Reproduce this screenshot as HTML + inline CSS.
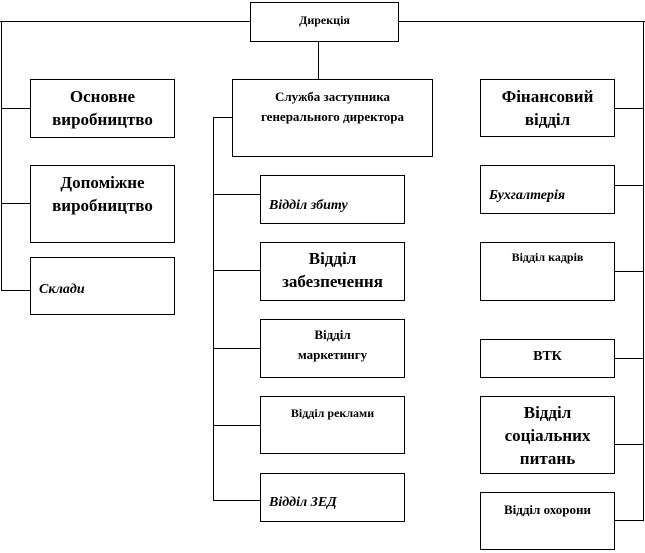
<!DOCTYPE html>
<html><head><meta charset="utf-8"><style>
body{margin:0;width:645px;height:553px;background:#fff;position:relative;overflow:hidden;font-family:"Liberation Serif",serif;font-weight:bold;color:#000}
.b{position:absolute;border:1px solid #000;box-sizing:border-box;text-align:center;background:#fff}
.l{position:absolute;background:#000}
.h{height:1px}.v{width:1px}
.s{font-size:12px;line-height:16px}
.m{font-size:17px;line-height:23px}
.i{font-style:italic;text-align:left;font-size:14px;position:absolute;left:8px}
</style></head><body>
<!-- top lines -->
<div class="l h" style="left:0;top:21px;width:645px"></div>
<div class="l v" style="left:1px;top:21px;height:270px"></div>
<div class="l v" style="left:643px;top:21px;height:500px"></div>
<div class="l v" style="left:318px;top:40px;height:40px"></div>
<!-- left connectors -->
<div class="l h" style="left:1px;top:108px;width:30px"></div>
<div class="l h" style="left:1px;top:203px;width:30px"></div>
<div class="l h" style="left:1px;top:290px;width:30px"></div>
<!-- center -->
<div class="l v" style="left:213px;top:117px;height:384px"></div>
<div class="l h" style="left:213px;top:117px;width:20px"></div>
<div class="l h" style="left:213px;top:194px;width:48px"></div>
<div class="l h" style="left:213px;top:270px;width:48px"></div>
<div class="l h" style="left:213px;top:348px;width:48px"></div>
<div class="l h" style="left:213px;top:425px;width:48px"></div>
<div class="l h" style="left:213px;top:500px;width:48px"></div>
<!-- right connectors -->
<div class="l h" style="left:614px;top:108px;width:30px"></div>
<div class="l h" style="left:614px;top:185px;width:30px"></div>
<div class="l h" style="left:614px;top:271px;width:30px"></div>
<div class="l h" style="left:614px;top:358px;width:30px"></div>
<div class="l h" style="left:614px;top:444px;width:30px"></div>
<div class="l h" style="left:614px;top:520px;width:30px"></div>

<div class="b s" style="left:250px;top:2px;width:149px;height:40px;padding-top:9px">Дирекція</div>

<div class="b m" style="left:30px;top:79px;width:145px;height:59px;padding-top:5px">Основне<br>виробництво</div>
<div class="b m" style="left:30px;top:165px;width:145px;height:78px;padding-top:5px">Допоміжне<br>виробництво</div>
<div class="b" style="left:30px;top:257px;width:145px;height:58px"><span class="i" style="top:24px">Склади</span></div>

<div class="b" style="left:232px;top:79px;width:201px;height:78px;padding-top:7px;font-size:13px;line-height:20px">Служба заступника<br>генерального директора</div>
<div class="b" style="left:260px;top:175px;width:145px;height:49px"><span class="i" style="top:22px">Відділ збиту</span></div>
<div class="b m" style="left:260px;top:242px;width:145px;height:59px;padding-top:4px">Відділ<br>забезпечення</div>
<div class="b" style="left:260px;top:319px;width:145px;height:59px;padding-top:5px;font-size:13px;line-height:20px">Відділ<br>маркетингу</div>
<div class="b s" style="left:260px;top:396px;width:145px;height:58px;padding-top:8px">Відділ реклами</div>
<div class="b" style="left:260px;top:473px;width:145px;height:49px"><span class="i" style="top:21px">Відділ ЗЕД</span></div>

<div class="b m" style="left:480px;top:79px;width:135px;height:58px;padding-top:5px">Фінансовий<br>відділ</div>
<div class="b" style="left:480px;top:165px;width:135px;height:49px"><span class="i" style="top:22px">Бухгалтерія</span></div>
<div class="b s" style="left:480px;top:242px;width:135px;height:59px;padding-top:6px">Відділ кадрів</div>
<div class="b" style="left:480px;top:339px;width:135px;height:39px;padding-top:8px;font-size:14px;line-height:18px">ВТК</div>
<div class="b m" style="left:480px;top:396px;width:135px;height:78px;padding-top:4px">Відділ<br>соціальних<br>питань</div>
<div class="b" style="left:480px;top:492px;width:135px;height:58px;padding-top:8px;font-size:13px;line-height:17px">Відділ охорони</div>
</body></html>
